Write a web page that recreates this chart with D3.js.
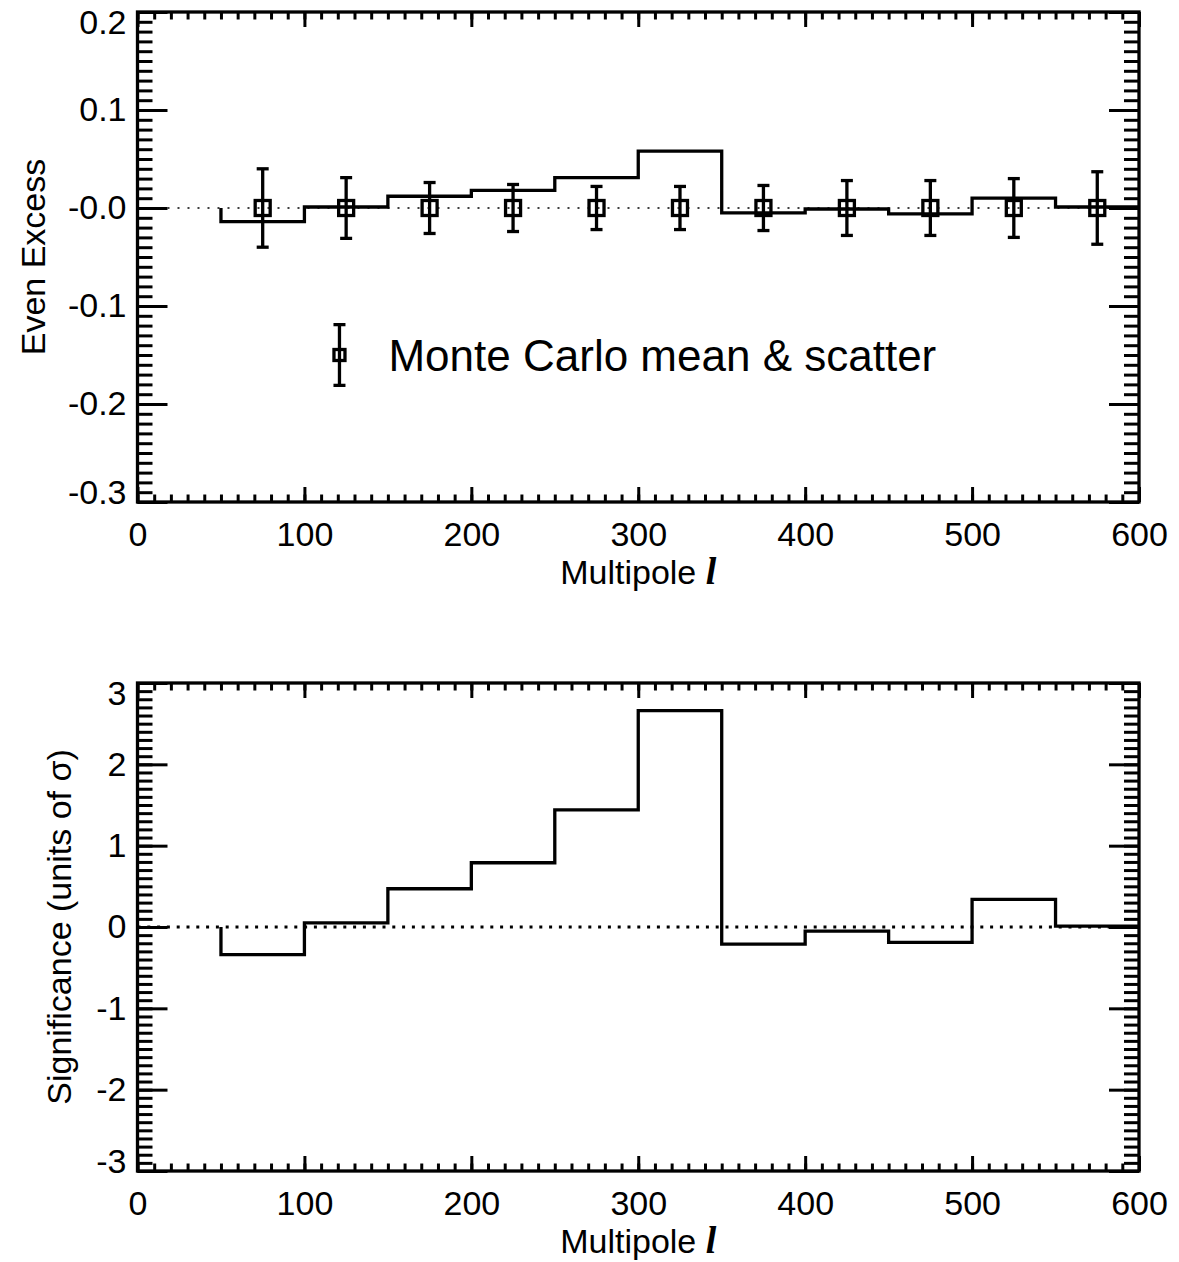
<!DOCTYPE html>
<html>
<head>
<meta charset="utf-8">
<script src="https://cdn.jsdelivr.net/npm/d3@7"></script>
<style>
  body { margin: 0; background: #fff; }
  text { font-family: "Liberation Sans", Arial, sans-serif; fill: #000; }
</style>
</head>
<body>
<svg id="chart" width="1179" height="1262"></svg>
<script>
// ---- data ----
const binEdges = [50, 100, 150, 200, 250, 300, 350, 400, 450, 500, 550, 600];
const binCenters = [75, 125, 175, 225, 275, 325, 375, 425, 475, 525, 575];
const evenExcess = [-0.014, 0.001, 0.012, 0.018, 0.031, 0.058, -0.005, -0.001, -0.006, 0.010, 0.001];
const mcMean = [0, 0, 0, 0, 0, 0, 0, 0, 0, 0, 0];
const mcScatter = [0.040, 0.031, 0.026, 0.024, 0.022, 0.022, 0.023, 0.028, 0.028, 0.030, 0.037];
const significance = [-0.34, 0.05, 0.47, 0.79, 1.44, 2.66, -0.21, -0.05, -0.19, 0.34, 0.01];

const xTicks = [0, 100, 200, 300, 400, 500, 600];
const xTickLabels = ["0", "100", "200", "300", "400", "500", "600"];
const topYTicks = [0.2, 0.1, 0.0, -0.1, -0.2, -0.3];
const topYTickLabels = ["0.2", "0.1", "-0.0", "-0.1", "-0.2", "-0.3"];
const botYTicks = [3, 2, 1, 0, -1, -2, -3];
const botYTickLabels = ["3", "2", "1", "0", "-1", "-2", "-3"];

const legendLabel = "Monte Carlo mean & scatter";
const legendPoint = { x: 121, y: -0.15, err: 0.031 };

const svg = d3.select("#chart");
const fontSize = 34;
const lw = 3.3;

// plot frame positions (pixels)
const left = 137.5, right = 1139;
const x = d3.scaleLinear().domain([0, 600]).range([left, right]);

function histPoints(values) {
  // start on the zero line, then step across each bin
  const pts = [{ x: binEdges[0], y: 0 }];
  values.forEach((v, i) => {
    pts.push({ x: binEdges[i], y: v });
    pts.push({ x: binEdges[i + 1], y: v });
  });
  return pts;
}

function drawFrame(g, y, yMajor, yLabels, yMinorStep, top, bottom) {
  const [y0, y1] = y.domain();
  const yMinor = d3.range(Math.round((y1 - y0) / yMinorStep) + 1).map(i => y0 + i * yMinorStep);
  const xMinor = d3.range(61).map(i => i * 10);

  const styleAxis = sel => {
    sel.select(".domain").remove();
    sel.selectAll(".tick line").attr("stroke", "#000").attr("stroke-width", 3);
    sel.attr("font-family", null).attr("font-size", null);
  };

  // bottom axis with labels
  g.append("g").attr("transform", `translate(0,${bottom})`)
    .call(d3.axisBottom(x).tickValues(xMinor).tickSize(-7.5).tickFormat(""))
    .call(styleAxis);
  g.append("g").attr("transform", `translate(0,${bottom})`)
    .call(d3.axisBottom(x).tickValues(xTicks).tickSize(-15).tickPadding(20)
      .tickFormat((d, i) => xTickLabels[i]))
    .call(styleAxis)
    .selectAll("text").style("font-size", fontSize + "px");
  // top axis mirror
  g.append("g").attr("transform", `translate(0,${top})`)
    .call(d3.axisTop(x).tickValues(xMinor).tickSize(-7.5).tickFormat(""))
    .call(styleAxis);
  g.append("g").attr("transform", `translate(0,${top})`)
    .call(d3.axisTop(x).tickValues(xTicks).tickSize(-15).tickFormat(""))
    .call(styleAxis);

  // left axis with labels
  g.append("g").attr("transform", `translate(${left},0)`)
    .call(d3.axisLeft(y).tickValues(yMinor).tickSize(-15).tickFormat(""))
    .call(styleAxis);
  const ly = g.append("g").attr("transform", `translate(${left},0)`)
    .call(d3.axisLeft(y).tickValues(yMajor).tickSize(-30).tickPadding(11)
      .tickFormat((d, i) => yLabels[i]))
    .call(styleAxis);
  ly.selectAll("text").style("font-size", fontSize + "px")
    .attr("y", d => {
      const py = y(d);
      if (py - top < 11) return top + 11 - py;
      if (bottom - py < 9) return bottom - 9 - py;
      return 0;
    });
  // right axis mirror
  g.append("g").attr("transform", `translate(${right},0)`)
    .call(d3.axisRight(y).tickValues(yMinor).tickSize(-15).tickFormat(""))
    .call(styleAxis);
  g.append("g").attr("transform", `translate(${right},0)`)
    .call(d3.axisRight(y).tickValues(yMajor).tickSize(-30).tickFormat(""))
    .call(styleAxis);

  g.append("rect")
    .attr("x", left).attr("y", top)
    .attr("width", right - left).attr("height", bottom - top)
    .attr("fill", "none").attr("stroke", "#000").attr("stroke-width", lw);
}

function xTitle(g, baseline) {
  const t = g.append("text")
    .attr("x", (left + right) / 2)
    .attr("y", baseline)
    .attr("text-anchor", "middle")
    .style("font-size", fontSize + "px");
  t.append("tspan").text("Multipole ");
  t.append("tspan").text("l")
    .style("font-family", "'Liberation Serif', 'Times New Roman', serif")
    .style("font-style", "italic").style("font-weight", "bold")
    .style("font-size", (fontSize + 4) + "px");
}

function yTitle(g, label, xBase, cy) {
  g.append("text")
    .attr("transform", `translate(${xBase},${cy}) rotate(-90)`)
    .attr("text-anchor", "middle")
    .style("font-size", fontSize + "px")
    .text(label);
}

// ---------- top panel: even excess ----------
const topTop = 12, topBottom = 502;
const yTop = d3.scaleLinear().domain([-0.3, 0.2]).range([topBottom, topTop]);
const gTop = svg.append("g");

// zero reference line
gTop.append("line")
  .attr("x1", x(0)).attr("x2", x(600))
  .attr("y1", yTop(0)).attr("y2", yTop(0))
  .attr("stroke", "#000").attr("stroke-width", 1.3)
  .attr("stroke-dasharray", "2,8");

const line = (ys) => d3.line().x(d => x(d.x)).y(d => ys(d.y));

gTop.append("path")
  .datum(histPoints(evenExcess))
  .attr("d", line(yTop))
  .attr("fill", "none").attr("stroke", "#000").attr("stroke-width", lw)
  .attr("stroke-linejoin", "miter");

// Monte Carlo mean & scatter
function errPoint(g, cx, cy, yLo, yHi, box, cap) {
  g.append("line").attr("x1", cx).attr("x2", cx).attr("y1", yLo).attr("y2", yHi)
    .attr("stroke", "#000").attr("stroke-width", lw);
  [yLo, yHi].forEach(yy => g.append("line")
    .attr("x1", cx - cap / 2).attr("x2", cx + cap / 2).attr("y1", yy).attr("y2", yy)
    .attr("stroke", "#000").attr("stroke-width", lw));
  g.append("rect").attr("x", cx - box / 2).attr("y", cy - box / 2)
    .attr("width", box).attr("height", box)
    .attr("fill", "none").attr("stroke", "#000").attr("stroke-width", lw);
}

const errG = gTop.append("g");
binCenters.forEach((c, i) => {
  errPoint(errG, x(c), yTop(mcMean[i]),
    yTop(mcMean[i] - mcScatter[i]), yTop(mcMean[i] + mcScatter[i]), 15, 12);
});

// legend
errPoint(gTop, x(legendPoint.x), yTop(legendPoint.y),
  yTop(legendPoint.y - legendPoint.err), yTop(legendPoint.y + legendPoint.err), 11, 12);
gTop.append("text")
  .attr("x", x(legendPoint.x) + 49)
  .attr("y", yTop(legendPoint.y) + 16)
  .style("font-size", "44px")
  .text(legendLabel);

drawFrame(gTop, yTop, topYTicks, topYTickLabels, 0.01, topTop, topBottom);
xTitle(gTop, 584);
yTitle(gTop, "Even Excess", 45, (topTop + topBottom) / 2);

// ---------- bottom panel: significance ----------
const botTop = 683, botBottom = 1171;
const yBot = d3.scaleLinear().domain([-3, 3]).range([botBottom, botTop]);
const gBot = svg.append("g");

gBot.append("line")
  .attr("x1", x(0)).attr("x2", x(600))
  .attr("y1", yBot(0)).attr("y2", yBot(0))
  .attr("stroke", "#000").attr("stroke-width", 3)
  .attr("stroke-dasharray", "3,6.8");

gBot.append("path")
  .datum(histPoints(significance))
  .attr("d", line(yBot))
  .attr("fill", "none").attr("stroke", "#000").attr("stroke-width", lw)
  .attr("stroke-linejoin", "miter");

drawFrame(gBot, yBot, botYTicks, botYTickLabels, 0.1, botTop, botBottom);
xTitle(gBot, 1253);
yTitle(gBot, "Significance (units of \u03c3)", 71, (botTop + botBottom) / 2);
</script>
</body>
</html>
